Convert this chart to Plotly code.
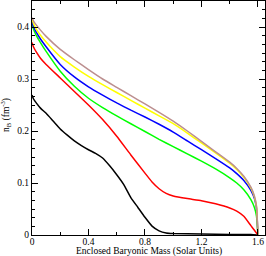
import plotly.graph_objects as go

# Enclosed baryonic mass (solar units) and baryon density n_B (fm^-3)
x_black = [0, 0.01, 0.03, 0.06, 0.1, 0.15, 0.2, 0.25, 0.3, 0.35, 0.4, 0.45, 0.5, 0.55, 0.6, 0.65, 0.7, 0.75, 0.8, 0.85, 0.9, 0.95, 1.0, 1.2, 1.4, 1.55, 1.6]
y_black = [0.269, 0.262, 0.254, 0.244, 0.234, 0.219, 0.204, 0.192, 0.181, 0.172, 0.164, 0.157, 0.148, 0.133, 0.116, 0.097, 0.072, 0.053, 0.034, 0.017, 0.008, 0.004, 0.003, 0.0018, 0.0012, 0.0008, 0]

x_red = [0, 0.01, 0.03, 0.06, 0.1, 0.2, 0.3, 0.4, 0.5, 0.6, 0.7, 0.8, 0.85, 0.9, 0.95, 1.0, 1.1, 1.2, 1.3, 1.4, 1.45, 1.5, 1.55, 1.575, 1.6]
y_red = [0.370, 0.362, 0.352, 0.340, 0.328, 0.302, 0.276, 0.250, 0.222, 0.190, 0.154, 0.119, 0.102, 0.089, 0.080, 0.075, 0.070, 0.066, 0.060, 0.052, 0.046, 0.036, 0.018, 0.009, 0]

x_grid = [0, 0.01, 0.03, 0.06, 0.1, 0.2, 0.3, 0.4, 0.5, 0.6, 0.7, 0.8, 0.9, 1.0, 1.1, 1.2, 1.3, 1.4, 1.45, 1.5, 1.55, 1.575, 1.59, 1.6]
y_green = [0.406, 0.396, 0.384, 0.370, 0.353, 0.315, 0.286, 0.263, 0.245, 0.229, 0.214, 0.199, 0.184, 0.170, 0.156, 0.142, 0.127, 0.110, 0.100, 0.087, 0.068, 0.053, 0.036, 0]
y_blue = [0.410, 0.401, 0.390, 0.377, 0.362, 0.328, 0.304, 0.285, 0.269, 0.254, 0.240, 0.227, 0.213, 0.198, 0.181, 0.164, 0.147, 0.129, 0.118, 0.105, 0.086, 0.070, 0.051, 0]
y_yellow = [0.415, 0.407, 0.396, 0.384, 0.371, 0.343, 0.323, 0.305, 0.289, 0.274, 0.259, 0.244, 0.229, 0.214, 0.196, 0.177, 0.158, 0.138, 0.126, 0.111, 0.090, 0.073, 0.053, 0]
y_tan = [0.418, 0.412, 0.404, 0.394, 0.382, 0.357, 0.337, 0.318, 0.300, 0.284, 0.268, 0.252, 0.236, 0.219, 0.200, 0.180, 0.160, 0.140, 0.128, 0.113, 0.092, 0.075, 0.055, 0]

x_ticks = [0, 0.4, 0.8, 1.2, 1.6]
x_ticklabels = ["0", "0.4", "0.8", "1.2", "1.6"]
y_ticks = [0, 0.1, 0.2, 0.3, 0.4]
y_ticklabels = ["0", "0.1", "0.2", "0.3", "0.4"]

series = [
    (x_black, y_black, "#000000"),
    (x_red, y_red, "#ff0000"),
    (x_grid, y_green, "#00ff00"),
    (x_grid, y_blue, "#0000ff"),
    (x_grid, y_yellow, "#ffff00"),
    (x_grid, y_tan, "#bc8f8f"),
]

fig = go.Figure()
for xs, ys, c in series:
    fig.add_trace(go.Scatter(x=xs, y=ys, mode="lines",
                             line=dict(color=c, width=1.5, shape="spline", smoothing=0.4),
                             showlegend=False, hoverinfo="skip"))

fam = "Liberation Serif, Times New Roman, serif"
font = dict(family=fam, size=10, color="black")

fig.update_layout(
    width=266, height=256,
    margin=dict(l=32, r=1, t=1, b=21),
    paper_bgcolor="white", plot_bgcolor="white",
    font=font,
    xaxis=dict(
        range=[0, 1.65], tickmode="array", tickvals=x_ticks, ticktext=x_ticklabels,
        ticks="inside", ticklen=6, tickwidth=1, tickcolor="black",
        showline=True, linecolor="black", linewidth=1, mirror="ticks",
        showgrid=False, zeroline=False, automargin=False,
        minor=dict(dtick=0.2, ticks="inside", ticklen=3, tickcolor="black", showgrid=False),
        tickfont=dict(family=fam, size=9.5),
        ticklabelstandoff=-2,
    ),
    yaxis=dict(
        range=[0, 0.45], tickmode="array", tickvals=y_ticks, ticktext=y_ticklabels,
        ticks="inside", ticklen=6, tickwidth=1, tickcolor="black",
        showline=True, linecolor="black", linewidth=1, mirror="ticks",
        showgrid=False, zeroline=False, automargin=False,
        minor=dict(dtick=0.1 / 6, ticks="inside", ticklen=3, tickcolor="black", showgrid=False),
        tickfont=dict(family=fam, size=9.5),
    ),
    annotations=[
        dict(text="Enclosed Baryonic Mass (Solar Units)", xref="paper", yref="paper",
             x=0.5, y=0, yshift=-16.5, xanchor="center", yanchor="middle",
             showarrow=False, font=dict(family=fam, size=9.5)),
        dict(text="n<sub>B</sub> (fm<sup>-3</sup>)", xref="paper", yref="paper",
             x=0, xshift=-26, y=0.513, xanchor="center", yanchor="middle", textangle=-90,
             showarrow=False, font=dict(family=fam, size=9.5)),
    ],
)

fig.write_html("out.html", config={"displayModeBar": False},
               post_script="document.body.style.margin='0';document.body.style.overflow='hidden';")
